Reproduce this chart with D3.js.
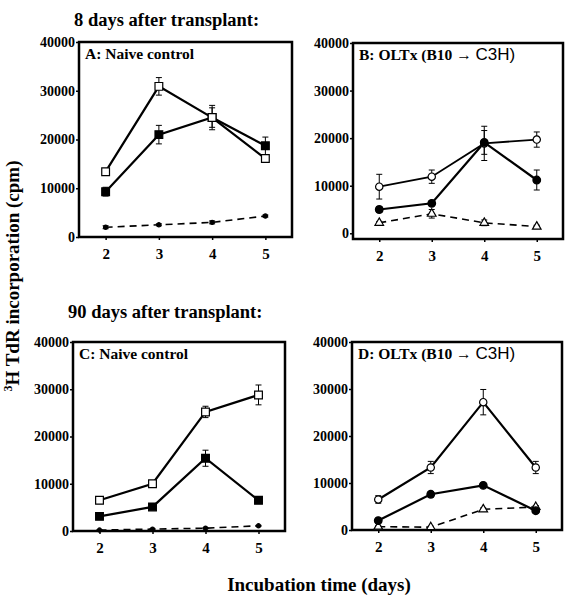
<!DOCTYPE html>
<html><head><meta charset="utf-8">
<script src="https://cdn.jsdelivr.net/npm/d3@7"></script>
<style>body{margin:0;background:#fff}</style>
</head><body>
<script>
// ---- data ----
const days = [2, 3, 4, 5];
const yTicks = [0, 10000, 20000, 30000, 40000];
const headers = ["8 days after transplant:", "90 days after transplant:"];
const xTitle = "Incubation time (days)";
const yTitle = ["3", "H TdR incorporation (cpm)"];

// Panel A: Naive control, 8 days
const aOpen = [13400, 30900, 24500, 16100];
const aOpenErr = [500, 1800, 2000, 700];
const aFilled = [9300, 21000, 24500, 18700];
const aFilledErr = [900, 1900, 2500, 1800];
const aDash = [2000, 2500, 3000, 4300];
const aDashErr = [300, 200, 300, 200];

// Panel B: OLTx, 8 days
const bOpen = [9800, 11900, 18900, 19700];
const bOpenErr = [2600, 1400, 3600, 1600];
const bFilled = [5000, 6300, 19100, 11200];
const bFilledErr = [600, 500, 2500, 2100];
const bTri = [2200, 4100, 2200, 1400];
const bTriErr = [300, 900, 600, 300];

// Panel C: Naive control, 90 days
const cOpen = [6500, 10000, 25200, 28800];
const cOpenErr = [700, 300, 1200, 2100];
const cFilled = [3100, 5100, 15400, 6500];
const cFilledErr = [300, 300, 1700, 300];
const cDash = [200, 400, 600, 1100];
const cDashErr = [100, 100, 100, 100];

// Panel D: OLTx, 90 days
const dOpen = [6500, 13300, 27200, 13300];
const dOpenErr = [800, 1300, 2700, 1300];
const dFilled = [2000, 7600, 9500, 4100];
const dFilledErr = [300, 600, 300, 400];
const dTri = [700, 600, 4400, 4900];
const dTriErr = [200, 200, 300, 300];

const titles = ["A: Naive control", "B: OLTx (B10 \u2192 ", "C: Naive control", "D: OLTx (B10 \u2192 "];
const titleSans = ["", "C3H)", "", "C3H)"];

// ---- layout ----
const SERIF = "'Liberation Serif','Times New Roman',serif";
const SANS = "'Liberation Sans',Arial,sans-serif";
const W = 567, H = 600;
const svg = d3.select("body").append("svg").attr("width", W).attr("height", H);

const panels = [
  {x0: 79, x1: 292, y0: 42, y1: 237, ymin: 0, title: 0,
   series: [
     {v: aDash, e: aDashErr, m: "dot", dash: true},
     {v: aFilled, e: aFilledErr, m: "sqF"},
     {v: aOpen, e: aOpenErr, m: "sqO"}]},
  {x0: 353, x1: 563, y0: 43, y1: 239, ymin: -1200, title: 1,
   series: [
     {v: bTri, e: bTriErr, m: "triO", dash: true},
     {v: bOpen, e: bOpenErr, m: "cirO", w: 1.8},
     {v: bFilled, e: bFilledErr, m: "cirF"}]},
  {x0: 73, x1: 285, y0: 342, y1: 531, ymin: 0, title: 2,
   series: [
     {v: cDash, e: cDashErr, m: "dot", dash: true},
     {v: cFilled, e: cFilledErr, m: "sqF"},
     {v: cOpen, e: cOpenErr, m: "sqO"}]},
  {x0: 352, x1: 562, y0: 342, y1: 530, ymin: 0, title: 3,
   series: [
     {v: dTri, e: dTriErr, m: "triO", dash: true},
     {v: dFilled, e: dFilledErr, m: "cirF"},
     {v: dOpen, e: dOpenErr, m: "cirO"}]}
];

const symbols = {
  sqO: {t: d3.symbolSquare, s: 60, fill: "#fff"},
  sqF: {t: d3.symbolSquare, s: 60, fill: "#000"},
  cirO: {t: d3.symbolCircle, s: 42, fill: "#fff"},
  cirF: {t: d3.symbolCircle, s: 46, fill: "#000"},
  triO: {t: d3.symbolTriangle, s: 32, fill: "#fff"},
  dot: {t: d3.symbolCircle, s: 14, fill: "#000"}
};

panels.forEach(p => {
  const x = d3.scaleLinear().domain([1.5, 5.5]).range([p.x0, p.x1]);
  const y = d3.scaleLinear().domain([p.ymin, 40000]).range([p.y1, p.y0]);
  const g = svg.append("g");

  // axes
  const ya = g.append("g").attr("transform", `translate(${p.x0},0)`)
    .call(d3.axisLeft(y).tickValues(yTicks).tickSize(3).tickPadding(1).tickFormat(d3.format("d")));
  ya.select(".domain").remove();
  ya.selectAll("line").attr("stroke", "#000").attr("stroke-width", 1.5);
  ya.selectAll("text").attr("font-family", SERIF).attr("font-weight", "bold")
    .attr("font-size", 14).attr("fill", "#000");

  const xa = g.append("g").attr("transform", `translate(0,${p.y1})`)
    .call(d3.axisBottom(x).tickValues(days).tickSize(3).tickPadding(8).tickFormat(d3.format("d")));
  xa.select(".domain").remove();
  xa.selectAll("line").attr("stroke", "#000").attr("stroke-width", 1.5);
  xa.selectAll("text").attr("font-family", SERIF).attr("font-weight", "bold")
    .attr("font-size", 15).attr("fill", "#000");

  // frame
  g.append("rect").attr("x", p.x0).attr("y", p.y0)
    .attr("width", p.x1 - p.x0).attr("height", p.y1 - p.y0)
    .attr("fill", "none").attr("stroke", "#000").attr("stroke-width", 2.5);

  // title
  const t = g.append("text").attr("x", p.x0 + 6).attr("y", p.y0 + 17)
    .attr("font-family", SERIF).attr("font-weight", "bold").attr("font-size", 15.5).attr("fill", "#000");
  t.append("tspan").text(titles[p.title]);
  if (titleSans[p.title]) {
    t.append("tspan").attr("font-family", SANS).attr("font-weight", "normal")
      .attr("font-size", 17).text(titleSans[p.title]);
  }

  const line = d3.line().x((d, i) => x(days[i])).y(d => y(d));

  // error bars
  p.series.forEach(s => {
    const eb = g.append("g");
    s.v.forEach((v, i) => {
      const cx = x(days[i]), top = y(v + s.e[i]), bot = y(v - s.e[i]);
      eb.append("line").attr("x1", cx).attr("x2", cx).attr("y1", top).attr("y2", bot)
        .attr("stroke", "#000").attr("stroke-width", 1);
      [top, bot].forEach(yy => eb.append("line").attr("x1", cx - 3).attr("x2", cx + 3)
        .attr("y1", yy).attr("y2", yy).attr("stroke", "#000").attr("stroke-width", 1));
    });
  });
  // lines
  p.series.forEach(s => {
    g.append("path").attr("d", line(s.v)).attr("fill", "none").attr("stroke", "#000")
      .attr("stroke-width", s.dash ? 1.6 : (s.w || 2.2))
      .attr("stroke-dasharray", s.dash ? "7,5" : null);
  });
  // markers
  p.series.forEach(s => {
    const sym = symbols[s.m];
    g.selectAll(null).data(s.v).enter().append("path")
      .attr("transform", (d, i) => `translate(${x(days[i])},${y(d)})`)
      .attr("d", d3.symbol().type(sym.t).size(sym.s))
      .attr("fill", sym.fill).attr("stroke", "#000").attr("stroke-width", 1.2);
  });
});

// headers
svg.append("text").attr("x", 74).attr("y", 26).text(headers[0])
  .attr("font-family", SERIF).attr("font-weight", "bold").attr("font-size", 18.5).attr("fill", "#000");
svg.append("text").attr("x", 68).attr("y", 318).text(headers[1])
  .attr("font-family", SERIF).attr("font-weight", "bold").attr("font-size", 18.5).attr("fill", "#000");

// x title
svg.append("text").attr("x", 319).attr("y", 591).attr("text-anchor", "middle").text(xTitle)
  .attr("font-family", SERIF).attr("font-weight", "bold").attr("font-size", 19).attr("fill", "#000");

// y title
const yt = svg.append("text").attr("transform", "translate(19,276) rotate(-90)")
  .attr("text-anchor", "middle")
  .attr("font-family", SERIF).attr("font-weight", "bold").attr("font-size", 19).attr("fill", "#000");
yt.append("tspan").attr("font-size", 12).attr("dy", -7).text(yTitle[0]);
yt.append("tspan").attr("dy", 7).text(yTitle[1]);
</script>
</body></html>
